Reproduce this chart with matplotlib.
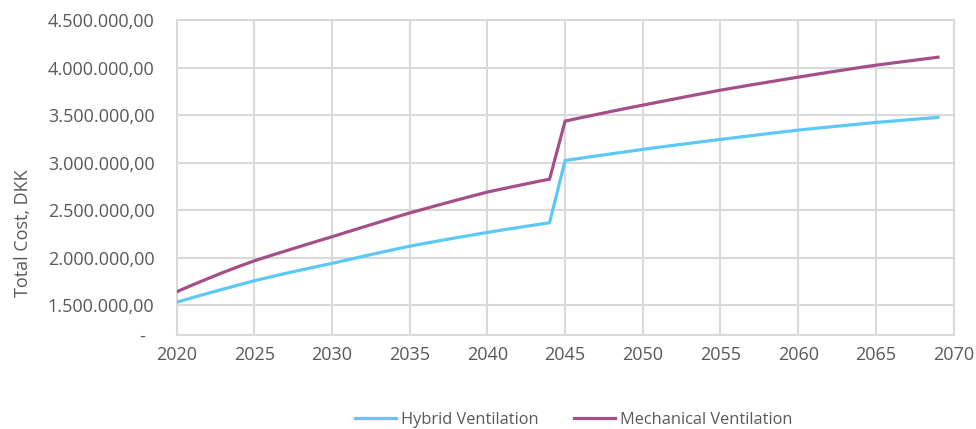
import matplotlib
matplotlib.use("Agg")
import matplotlib.pyplot as plt

plt.rcParams['font.family'] = ['Open Sans', 'DejaVu Sans']

years = list(range(2020, 2070))

hybrid = [
    1.530, 1.577, 1.623, 1.668, 1.712, 1.756, 1.795, 1.833, 1.869, 1.904,
    1.939, 1.976, 2.013, 2.049, 2.085, 2.120, 2.150, 2.180, 2.209, 2.237,
    2.265, 2.291, 2.317, 2.342, 2.367, 3.022, 3.046, 3.070, 3.093, 3.116,
    3.139, 3.161, 3.182, 3.203, 3.224, 3.244, 3.264, 3.284, 3.304, 3.323,
    3.342, 3.359, 3.375, 3.391, 3.407, 3.423, 3.436, 3.450, 3.463, 3.476,
]
mechanical = [
    1.640, 1.710, 1.778, 1.844, 1.906, 1.966, 2.018, 2.069, 2.120, 2.170,
    2.219, 2.270, 2.321, 2.371, 2.421, 2.470, 2.515, 2.560, 2.604, 2.647,
    2.690, 2.725, 2.759, 2.793, 2.826, 3.437, 3.472, 3.506, 3.540, 3.573,
    3.605, 3.637, 3.669, 3.701, 3.732, 3.763, 3.791, 3.819, 3.846, 3.873,
    3.900, 3.926, 3.952, 3.977, 4.002, 4.026, 4.047, 4.068, 4.089, 4.110,
]
hybrid = [v * 1e6 for v in hybrid]
mechanical = [v * 1e6 for v in mechanical]

y_ticks = [1.5e6, 2.0e6, 2.5e6, 3.0e6, 3.5e6, 4.0e6, 4.5e6]
x_ticks = list(range(2020, 2071, 5))
y_floor = 1.184e6  # compressed lower part of the value axis, labelled "-"

series_labels = ["Hybrid Ventilation", "Mechanical Ventilation"]
colors = ["#5CC8F5", "#A54F88"]
grid_col = "#D9D9D9"
text_col = "#595959"


def dk_fmt(v):
    s = f"{v:,.2f}"
    return s.replace(",", "X").replace(".", ",").replace("X", ".")


fig = plt.figure(figsize=(9.76, 4.29), dpi=100)
ax = fig.add_axes([0.181, 0.219, 0.796, 0.734])

ax.plot(years, hybrid, color=colors[0], lw=2.3, label=series_labels[0],
        solid_joinstyle='miter', zorder=3)
ax.plot(years, mechanical, color=colors[1], lw=2.3, label=series_labels[1],
        solid_joinstyle='miter', zorder=3)

ax.set_xlim(2020, 2070)
ax.set_ylim(y_floor, 4.5e6)
ax.set_xticks(x_ticks)
ax.set_xticklabels([str(x) for x in x_ticks])
ax.set_yticks([y_floor] + y_ticks)
ax.set_yticklabels(["-"] + [dk_fmt(v) for v in y_ticks])

ax.grid(True, color=grid_col, lw=1.5, zorder=0)
for sp in ax.spines.values():
    sp.set_color(grid_col)
    sp.set_linewidth(1.5)
ax.tick_params(axis='both', length=0, colors=text_col, labelsize=13)
ax.tick_params(axis='x', pad=8)
ax.tick_params(axis='y', pad=16)
# the dash for the floor sits a little further left, as in accounting format
ax.get_yticklabels()[0].set_x(-0.012)

fig.text(23 / 976, 1 - 233 / 429, "Total Cost, DKK", rotation=90,
         ha='center', va='center', color=text_col, fontsize=13)

leg = fig.legend(loc='center', bbox_to_anchor=(0.588, 0.022), ncol=2,
                 frameon=False, fontsize=11.8, handlelength=2.5,
                 handletextpad=0.3, columnspacing=2.2)
for t in leg.get_texts():
    t.set_color(text_col)

fig.savefig("out.png", dpi=100, facecolor="white")
